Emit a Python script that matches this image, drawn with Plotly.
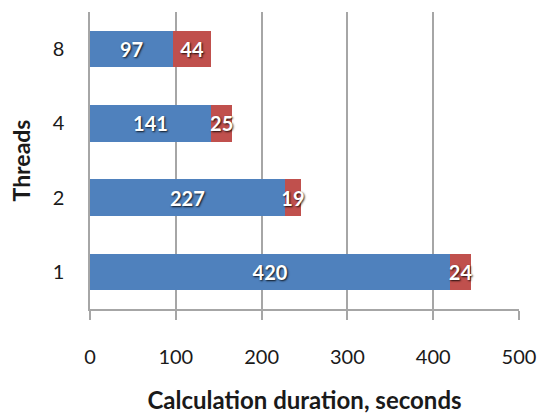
import plotly.graph_objects as go

threads = ["1", "2", "4", "8"]
compute_s = [420, 227, 141, 97]
overhead_s = [24, 19, 25, 44]
x_ticks = [0, 100, 200, 300, 400, 500]

FONT = "Lato, Open Sans, sans-serif"
label_font = dict(family=FONT, size=20, color="white", weight="bold",
                  shadow="1px 1px 2px rgba(0,0,0,0.85)")

fig = go.Figure()
for vals, color in [(compute_s, "#4F81BD"), (overhead_s, "#C0504D")]:
    fig.add_trace(go.Bar(
        y=threads, x=vals, orientation="h",
        marker=dict(color=color, line=dict(width=0)),
        text=[str(v) for v in vals],
        textposition="inside", insidetextanchor="middle",
        textangle=0, constraintext="none",
        textfont=label_font, cliponaxis=False,
    ))

fig.update_layout(
    barmode="stack", bargap=0.51, showlegend=False,
    width=539, height=415,
    margin=dict(l=90, r=20, t=12, b=106),
    plot_bgcolor="white", paper_bgcolor="white",
    font=dict(family=FONT, size=20, color="#1a1a1a"),
    xaxis=dict(
        range=[0, 500], tickvals=x_ticks, showgrid=True, gridcolor="#a6a6a6",
        gridwidth=1.5, showline=True, linecolor="#a6a6a6", linewidth=1.5,
        ticks="outside", ticklen=9, tickcolor="#a6a6a6", tickwidth=1.5,
        ticklabelstandoff=20, zeroline=False, automargin=False,
        title=dict(text="<b>Calculation duration, seconds</b>",
                   font=dict(size=24, color="#1a1a1a"), standoff=25),
    ),
    yaxis=dict(
        categoryorder="array", categoryarray=threads, automargin=False,
        showline=True, linecolor="#a6a6a6", linewidth=1.5, showgrid=False,
        ticks="", ticklabelstandoff=20,
        title=dict(text="<b>Threads</b>", font=dict(size=23, color="#1a1a1a"),
                   standoff=16),
    ),
)

fig.write_html("out.html")
